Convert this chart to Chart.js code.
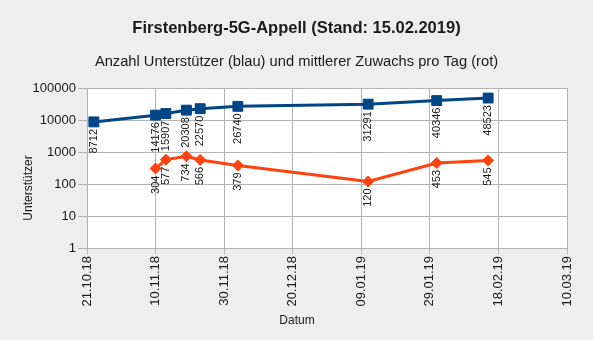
<!DOCTYPE html>
<html>
<head>
<meta charset="utf-8">
<script src="https://cdn.jsdelivr.net/npm/chart.js@4/dist/chart.umd.min.js"></script>
<style>
  html, body { margin: 0; padding: 0; background: #eeeeee; }
  #wrap { width: 593px; height: 340px; }
</style>
</head>
<body>
<div id="wrap"><canvas id="c" width="593" height="340"></canvas></div>
<script>
// ---- data ----
const titleText = 'Firstenberg-5G-Appell (Stand: 15.02.2019)';
const subtitleText = 'Anzahl Unterstützer (blau) und mittlerer Zuwachs pro Tag (rot)';
const yTitle = 'Unterstützer';
const xTitle = 'Datum';

const baseDate = '21.10.18';
const dates = ['23.10.18','10.11.18','13.11.18','19.11.18','23.11.18','04.12.18','11.01.19','31.01.19','15.02.19'];
const supporters = [8712, 14176, 15907, 20308, 22570, 26740, 31291, 40346, 48523];
const growthDates = ['10.11.18','13.11.18','19.11.18','23.11.18','04.12.18','11.01.19','31.01.19','15.02.19'];
const growth = [304, 577, 734, 566, 379, 120, 453, 545];

const xTickLabels = ['21.10.18','10.11.18','30.11.18','20.12.18','09.01.19','29.01.19','18.02.19','10.03.19'];
const yTicks = [1, 10, 100, 1000, 10000, 100000];
const yTickLabels = ['1','10','100','1000','10000','100000'];

// ---- helpers ----
function dayNum(s) {
  const [d, m, y] = s.split('.').map(Number);
  return Date.UTC(2000 + y, m - 1, d) / 86400000;
}
const base = dayNum(baseDate);
const toPts = (ds, vs) => ds.map((d, i) => ({ x: dayNum(d) - base, y: vs[i] }));

const FONT = '"Liberation Sans", Arial, sans-serif';
const BLUE = '#004586';
const RED = '#ff420e';
const GRID = '#b3b3b3';
const TXT = '#1a1a1a';

const deco = {
  id: 'deco',
  beforeDraw(chart) {
    const { ctx, chartArea: a } = chart;
    ctx.save();
    ctx.fillStyle = '#eeeeee';
    ctx.fillRect(0, 0, chart.width, chart.height);
    ctx.fillStyle = '#ffffff';
    ctx.fillRect(a.left, a.top, a.right - a.left, a.bottom - a.top);
    ctx.restore();
  },
  afterDatasetsDraw(chart) {
    const ctx = chart.ctx;
    ctx.save();
    ctx.font = '11px ' + FONT;
    ctx.fillStyle = TXT;
    ctx.textAlign = 'right';
    ctx.textBaseline = 'middle';
    chart.data.datasets.forEach((ds, di) => {
      const meta = chart.getDatasetMeta(di);
      meta.data.forEach((el, i) => {
        ctx.save();
        ctx.translate(el.x, el.y + 7);
        ctx.rotate(-Math.PI / 2);
        ctx.fillText(String(ds.data[i].y), 0, 0);
        ctx.restore();
      });
    });
    ctx.restore();
  },
  afterDraw(chart) {
    const ctx = chart.ctx;
    ctx.save();
    ctx.fillStyle = TXT;
    ctx.textAlign = 'center';
    ctx.textBaseline = 'alphabetic';
    ctx.font = 'bold 16.5px ' + FONT;
    ctx.fillText(titleText, 296.5, 33);
    ctx.font = '14.7px ' + FONT;
    ctx.fillText(subtitleText, 296.5, 66);
    ctx.font = '12px ' + FONT;
    ctx.textBaseline = 'middle';
    ctx.fillText(xTitle, 297, 321);
    ctx.translate(29, 188);
    ctx.rotate(-Math.PI / 2);
    ctx.fillText(yTitle, 0, 0);
    ctx.restore();
  }
};

new Chart(document.getElementById('c'), {
  type: 'line',
  data: {
    datasets: [
      {
        data: toPts(dates, supporters),
        borderColor: BLUE,
        backgroundColor: BLUE,
        borderWidth: 3,
        pointStyle: 'rect',
        pointRadius: 7,
        pointBorderWidth: 1,
        pointBackgroundColor: BLUE,
        pointBorderColor: BLUE,
        tension: 0
      },
      {
        data: toPts(growthDates, growth),
        borderColor: RED,
        backgroundColor: RED,
        borderWidth: 3,
        pointStyle: 'rectRot',
        pointRadius: 5.5,
        pointBorderWidth: 1,
        pointBackgroundColor: RED,
        pointBorderColor: RED,
        tension: 0
      }
    ]
  },
  options: {
    responsive: false,
    animation: false,
    layout: { padding: { top: 88, left: 0, right: 26, bottom: 0 } },
    plugins: {
      legend: { display: false },
      tooltip: { enabled: false },
      title: { display: false }
    },
    scales: {
      x: {
        type: 'linear',
        min: 0,
        max: 140,
        afterFit(s) { s.height = 92; },
        ticks: {
          stepSize: 20,
          minRotation: 90,
          maxRotation: 90,
          padding: 2,
          color: TXT,
          font: { family: FONT, size: 13 },
          callback: (v, i) => xTickLabels[i]
        },
        grid: { color: GRID, tickColor: GRID, tickLength: 6, lineWidth: 1 },
        border: { color: GRID, width: 1 }
      },
      y: {
        type: 'logarithmic',
        min: 1,
        max: 100000,
        afterFit(s) { s.width = 87; },
        afterBuildTicks(s) { s.ticks = yTicks.map(v => ({ value: v })); },
        ticks: {
          padding: 2,
          color: TXT,
          font: { family: FONT, size: 13 },
          callback: (v) => yTickLabels[yTicks.indexOf(v)]
        },
        grid: { color: GRID, tickColor: GRID, tickLength: 9, lineWidth: 1 },
        border: { color: GRID, width: 1 }
      }
    }
  },
  plugins: [deco]
});
</script>
</body>
</html>
